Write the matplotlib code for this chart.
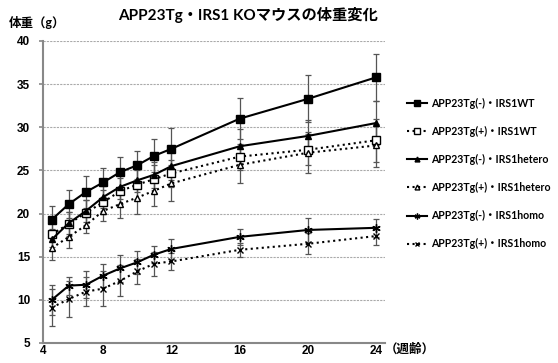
import numpy as np
import matplotlib.pyplot as plt

plt.rcParams['font.family'] = ['Lato', 'Noto Sans CJK JP', 'DejaVu Sans']

weeks = [5, 6, 7, 8, 9, 10, 11, 12, 16, 20, 24]

labels = ['APP23Tg(-)・IRS1WT', 'APP23Tg(+)・IRS1WT',
          'APP23Tg(-)・IRS1hetero', 'APP23Tg(+)・IRS1hetero',
          'APP23Tg(-)・IRS1homo', 'APP23Tg(+)・IRS1homo']

wt_neg = [19.3, 21.1, 22.5, 23.6, 24.8, 25.6, 26.7, 27.5, 31.0, 33.3, 35.8]
wt_pos = [17.6, 18.8, 20.1, 21.3, 22.6, 23.35, 24.0, 24.65, 26.6, 27.4, 28.5]
het_neg = [17.0, 18.9, 20.3, 21.9, 23.1, 23.85, 24.5, 25.5, 27.8, 29.0, 30.5]
het_pos = [16.0, 17.3, 18.65, 20.3, 21.1, 21.85, 22.65, 23.5, 25.65, 27.05, 27.9]
homo_neg = [10.0, 11.65, 11.75, 12.8, 13.65, 14.35, 15.25, 15.9, 17.3, 18.1, 18.35]
homo_pos = [9.1, 10.1, 10.95, 11.3, 12.2, 13.3, 14.2, 14.45, 15.8, 16.5, 17.4]

wt_neg_err = [1.6, 1.6, 1.8, 1.7, 1.7, 1.6, 1.9, 2.4, 2.4, 2.7, 2.7]
wt_pos_err = [1.5, 1.4, 1.5, 1.4, 1.5, 1.7, 1.6, 1.6, 1.5, 1.8, 2.5]
het_neg_err = [1.2, 1.3, 1.3, 1.3, 1.4, 1.4, 1.5, 1.6, 2.0, 1.9, 2.6]
het_pos_err = [1.35, 1.3, 0.95, 1.15, 1.65, 1.85, 1.75, 2.1, 2.15, 2.35, 2.5]
homo_neg_err = [1.75, 1.05, 1.55, 1.35, 1.6, 1.35, 0.95, 1.2, 0.9, 1.4, 1.05]
homo_pos_err = [2.1, 2.1, 1.65, 2.0, 1.8, 1.45, 1.4, 0.95, 0.8, 1.2, 1.05]

series = [wt_neg, wt_pos, het_neg, het_pos, homo_neg, homo_pos]
errors = [wt_neg_err, wt_pos_err, het_neg_err, het_pos_err, homo_neg_err, homo_pos_err]

styles = [
    dict(ls='-', marker='s', mfc='black', ms=6),
    dict(ls=':', marker='s', mfc='white', ms=6),
    dict(ls='-', marker='^', mfc='black', ms=5),
    dict(ls=':', marker='^', mfc='white', ms=5),
    dict(ls='-', marker=(6, 2, 0), mfc='black', ms=6),
    dict(ls=':', marker='x', mfc='black', ms=5),
]

fig = plt.figure(figsize=(5.58, 3.63), dpi=100)
ax = fig.add_axes([0.0765, 0.0551, 0.6135, 0.832])

handles = []
for vals, err, st, lab in zip(series, errors, styles, labels):
    ax.errorbar(weeks, vals, yerr=err, fmt='none', ecolor='#555555',
                elinewidth=0.9, capsize=2.2, capthick=0.9, zorder=2)
    h, = ax.plot(weeks, vals, color='black', lw=1.5, ls=st['ls'],
                 marker=st['marker'], mfc=st['mfc'], mec='black',
                 ms=st['ms'], mew=1.0, label=lab, zorder=3)
    handles.append(h)

ax.set_xlim(4.47, 24.5)
ax.set_ylim(5, 40)
ax.set_yticks(np.arange(5, 41, 5))
ax.set_xticks([4.47, 8, 12, 16, 20, 24])
ax.set_xticklabels(['4', '8', '12', '16', '20', '24'])
for t in ax.get_xticklabels() + ax.get_yticklabels():
    t.set_fontweight('bold')
    t.set_fontsize(8.5)
    t.set_family(['Liberation Sans', 'DejaVu Sans'])
ax.tick_params(axis='x', length=0, pad=1.5)
ax.tick_params(axis='y', length=3, width=1.2, color='#888888', pad=6)

ax.grid(axis='y', color='#aaaaaa', ls=(0, (2, 1)), lw=0.8)
ax.set_axisbelow(True)
for s in ['top', 'right']:
    ax.spines[s].set_visible(False)
for s in ['left', 'bottom']:
    ax.spines[s].set_color('#888888')
    ax.spines[s].set_linewidth(1.5)

fig.text(0.445, 0.959, 'APP23Tg・IRS1 KOマウスの体重変化', ha='center', va='center',
         fontsize=11, fontweight='bold')
fig.text(0.016, 0.9375, '体重（g）', ha='left', va='center', fontsize=9, fontweight='bold')
fig.text(0.735, 0.04, '（週齢）', ha='center', va='center', fontsize=9, fontweight='bold')

leg = fig.legend(handles=handles, loc='upper left', bbox_to_anchor=(0.712, 0.757),
                 frameon=False, labelspacing=1.62, handlelength=1.9,
                 handletextpad=0.4, markerscale=0.7,
                 prop={'weight': 'bold', 'size': 7.6})

fig.savefig('out.png', dpi=100)
